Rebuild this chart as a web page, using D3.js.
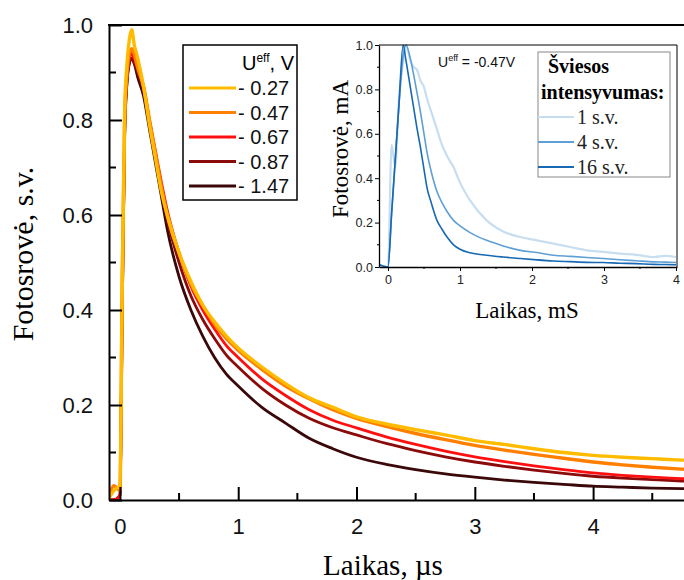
<!DOCTYPE html>
<meta charset="utf-8">
<style>
body { margin: 0; background: #fff; }
.tick text { font-family: "Liberation Sans", Arial, sans-serif; }
</style>
<script src="https://d3js.org/d3.v7.min.js"></script>
<div id="chart"></div>
<script>
// main chart data (time in µs, normalised photocurrent)
var tMain = [-0.1, -0.05, 0, 0.02, 0.04, 0.06, 0.08, 0.1, 0.12, 0.15, 0.2, 0.25, 0.3, 0.35, 0.4,
  0.5, 0.6, 0.7, 0.8, 0.9, 1.0, 1.2, 1.4, 1.6, 1.8, 2.0, 2.25, 2.5, 2.75, 3.0, 3.25, 3.5,
  3.75, 4.0, 4.25, 4.5, 4.75, 5.0];
var voltages = ["- 0.27", "- 0.47", "- 0.67", "- 0.87", "- 1.47"];
var colors = ["#ffbb00", "#ff7f00", "#ff1010", "#8b0a0a", "#3a0808"];
var v027 = [0, 0.02, 0.03, 0.45, 0.82, 0.92, 0.97, 0.99, 0.96, 0.93, 0.87, 0.79, 0.72, 0.65, 0.6,
  0.52, 0.46, 0.41, 0.375, 0.345, 0.32, 0.28, 0.245, 0.215, 0.195, 0.175, 0.16, 0.148, 0.137,
  0.125, 0.117, 0.108, 0.1, 0.094, 0.09, 0.087, 0.084, 0.082];
var v047 = [0, 0.03, 0.02, 0.48, 0.8, 0.9, 0.94, 0.95, 0.94, 0.91, 0.87, 0.8, 0.73, 0.66, 0.6,
  0.52, 0.455, 0.41, 0.37, 0.34, 0.315, 0.275, 0.24, 0.213, 0.19, 0.172, 0.155, 0.14, 0.127,
  0.115, 0.105, 0.096, 0.088, 0.08, 0.074, 0.069, 0.065, 0.062];
var v067 = [0, 0, 0.01, 0.42, 0.78, 0.89, 0.93, 0.94, 0.93, 0.91, 0.87, 0.8, 0.735, 0.67, 0.61,
  0.52, 0.45, 0.4, 0.36, 0.325, 0.3, 0.255, 0.22, 0.19, 0.168, 0.152, 0.133, 0.117, 0.103,
  0.091, 0.081, 0.072, 0.064, 0.057, 0.052, 0.048, 0.045, 0.042];
var v087 = [0, 0, 0.01, 0.4, 0.77, 0.88, 0.92, 0.93, 0.92, 0.9, 0.86, 0.79, 0.72, 0.65, 0.59,
  0.5, 0.43, 0.38, 0.34, 0.305, 0.28, 0.235, 0.2, 0.172, 0.152, 0.137, 0.119, 0.104, 0.091,
  0.08, 0.071, 0.063, 0.056, 0.05, 0.046, 0.043, 0.04, 0.038];
var v147 = [0, 0, 0.01, 0.4, 0.77, 0.88, 0.92, 0.93, 0.92, 0.89, 0.85, 0.78, 0.71, 0.64, 0.57,
  0.47, 0.4, 0.345, 0.3, 0.265, 0.24, 0.195, 0.162, 0.13, 0.108, 0.09, 0.075, 0.064, 0.055,
  0.048, 0.042, 0.037, 0.033, 0.029, 0.027, 0.025, 0.024, 0.023];
var mainSeries = [v027, v047, v067, v087, v147];

// inset data (time in mS, photocurrent in mA)
var tInset = [-0.12, 0, 0.05, 0.1, 0.15, 0.21, 0.25, 0.31, 0.36, 0.4, 0.45, 0.5, 0.54, 0.6, 0.68,
  0.75, 0.82, 0.91, 1.0, 1.14, 1.37, 1.6, 1.84, 2.07, 2.3, 2.53, 2.76, 2.99, 3.22, 3.45, 3.69,
  3.85, 4.0];
var intensities = ["1 s.v.", "4 s.v.", "16 s.v."];
var blues = ["#c6def0", "#5e9fd6", "#1868b4"];
var i1 = [0.01, 0.0, 0.55, 0.45, 0.75, 0.92, 1.0, 0.93, 0.9, 0.89, 0.84, 0.81, 0.76, 0.7, 0.62,
  0.55, 0.5, 0.45, 0.38, 0.3, 0.21, 0.16, 0.135, 0.12, 0.105, 0.09, 0.075, 0.068, 0.06, 0.055,
  0.045, 0.05, 0.045];
var i4 = [0.01, 0.0, 0.24, 0.48, 0.72, 0.95, 1.0, 0.94, 0.86, 0.79, 0.7, 0.6, 0.52, 0.43, 0.34,
  0.29, 0.25, 0.21, 0.185, 0.155, 0.12, 0.095, 0.075, 0.065, 0.053, 0.048, 0.043, 0.038, 0.033,
  0.028, 0.023, 0.022, 0.02];
var i16 = [0.01, 0.0, 0.24, 0.48, 0.72, 1.0, 0.93, 0.81, 0.71, 0.63, 0.54, 0.44, 0.36, 0.29, 0.21,
  0.17, 0.135, 0.1, 0.08, 0.064, 0.053, 0.045, 0.038, 0.032, 0.027, 0.024, 0.021, 0.02, 0.017,
  0.015, 0.012, 0.011, 0.01];
var insetSeries = [i1, i4, i16];

var W = 684, H = 580;
var serif = "'Liberation Serif', 'Times New Roman', serif";
var svg = d3.select("#chart").append("svg")
    .attr("width", W).attr("height", H)
    .style("font-family", "'Liberation Sans', Arial, sans-serif");

// ---------- main plot ----------
var L = 109, T = 25, R = 700, B = 500;
var x = d3.scaleLinear().domain([-0.0923, 4.9036]).range([L, R]);
var y = d3.scaleLinear().domain([0, 1]).range([B, T]);

svg.append("defs").append("clipPath").attr("id", "clipMain")
  .append("rect").attr("x", L).attr("y", T).attr("width", R - L).attr("height", B - T);

var line = d3.line()
    .x(function(d) { return x(d[0]); })
    .y(function(d) { return y(d[1]); })
    .curve(d3.curveMonotoneX);

var gLines = svg.append("g").attr("clip-path", "url(#clipMain)");
for (var s = mainSeries.length - 1; s >= 0; s--) {
  gLines.append("path")
    .datum(tMain.map(function(t, i) { return [t, mainSeries[s][i]]; }))
    .attr("fill", "none")
    .attr("stroke", colors[s])
    .attr("stroke-width", s < 2 ? 3.4 : 2.8)
    .attr("d", line);
}

// axes with inward ticks
function minorTicks(g, scale, vals, horiz, len) {
  vals.forEach(function(v) {
    if (horiz) g.append("line").attr("x1", scale(v)).attr("x2", scale(v)).attr("y1", B).attr("y2", B - len);
    else g.append("line").attr("y1", scale(v)).attr("y2", scale(v)).attr("x1", L).attr("x2", L + len);
  });
}
var xAxis = d3.axisBottom(x).tickValues([0, 1, 2, 3, 4]).tickFormat(d3.format("d"))
    .tickSizeInner(-13).tickSizeOuter(0).tickPadding(18);
var yAxis = d3.axisLeft(y).tickValues([0, 0.2, 0.4, 0.6, 0.8, 1.0]).tickFormat(d3.format(".1f"))
    .tickSizeInner(-13).tickSizeOuter(0).tickPadding(16);

var gx = svg.append("g").attr("transform", "translate(0," + B + ")").call(xAxis);
var gy = svg.append("g").attr("transform", "translate(" + L + ",0)").call(yAxis);
[gx, gy].forEach(function(g) {
  g.select(".domain").attr("stroke", "#000").attr("stroke-width", 2);
  g.selectAll(".tick line").attr("stroke", "#000").attr("stroke-width", 2);
  g.selectAll(".tick text").attr("fill", "#111").style("font-size", "22px");
});
var gm = svg.append("g").attr("stroke", "#000").attr("stroke-width", 2);
minorTicks(gm, x, [0.5, 1.5, 2.5, 3.5, 4.5], true, 7);
minorTicks(gm, y, [0.1, 0.3, 0.5, 0.7, 0.9], false, 7);
svg.append("line").attr("x1", L - 1).attr("x2", R).attr("y1", T).attr("y2", T)
  .attr("stroke", "#000").attr("stroke-width", 2);

svg.append("text").attr("x", 383).attr("y", 575).attr("text-anchor", "middle")
  .style("font-family", serif).style("font-size", "29px")
  .text("Laikas, µs");
svg.append("text").attr("transform", "translate(33,254) rotate(-90)").attr("text-anchor", "middle")
  .style("font-family", serif).style("font-size", "30px")
  .text("Fotosrovė, s.v.");

// legend
var lg = svg.append("g");
lg.append("rect").attr("x", 183).attr("y", 45).attr("width", 114).attr("height", 155)
  .attr("fill", "#fff").attr("stroke", "#000").attr("stroke-width", 1.5);
var hdr = lg.append("text").attr("x", 294).attr("y", 70).attr("text-anchor", "end")
  .style("font-size", "20px");
hdr.append("tspan").text("U");
hdr.append("tspan").attr("dy", -8).style("font-size", "12px").text("eff");
hdr.append("tspan").attr("dy", 8).text(", V");
voltages.forEach(function(v, i) {
  var yy = 88 + i * 24.5;
  lg.append("line").attr("x1", 189).attr("x2", 236).attr("y1", yy).attr("y2", yy)
    .attr("stroke", colors[i]).attr("stroke-width", 3);
  lg.append("text").attr("x", 238).attr("y", yy + 7).style("font-size", "20px").attr("fill", "#111").text(v);
});

// ---------- inset ----------
var iL = 379, iT = 45, iR = 677, iB = 267;
var xi = d3.scaleLinear().domain([-0.125, 4.014]).range([iL, iR]);
var yi = d3.scaleLinear().domain([0, 1]).range([iB, iT]);
var inset = svg.append("g");
inset.append("rect").attr("x", iL).attr("y", iT).attr("width", iR - iL).attr("height", iB - iT)
  .attr("fill", "#fff");
inset.append("defs").append("clipPath").attr("id", "clipInset")
  .append("rect").attr("x", iL).attr("y", iT - 2).attr("width", iR - iL).attr("height", iB - iT + 2);
var lineI = d3.line()
    .x(function(d) { return xi(d[0]); })
    .y(function(d) { return yi(d[1]); })
    .curve(d3.curveMonotoneX);
var gi = inset.append("g").attr("clip-path", "url(#clipInset)");
insetSeries.forEach(function(ser, k) {
  gi.append("path")
    .datum(tInset.map(function(t, i) { return [t, ser[i]]; }))
    .attr("fill", "none").attr("stroke", blues[k]).attr("stroke-width", k === 0 ? 2.2 : 1.6)
    .attr("d", lineI);
});
var xiAxis = d3.axisBottom(xi).tickValues([0, 1, 2, 3, 4]).tickFormat(d3.format("d"))
    .tickSize(4).tickSizeOuter(0).tickPadding(4);
var yiAxis = d3.axisLeft(yi).tickValues([0, 0.2, 0.4, 0.6, 0.8, 1.0]).tickFormat(d3.format(".1f"))
    .tickSize(4).tickSizeOuter(0).tickPadding(2);
var gxi = inset.append("g").attr("transform", "translate(0," + iB + ")").call(xiAxis);
var gyi = inset.append("g").attr("transform", "translate(" + iL + ",0)").call(yiAxis);
[gxi, gyi].forEach(function(g) {
  g.select(".domain").attr("stroke", "#000").attr("stroke-width", 1.3);
  g.selectAll(".tick line").attr("stroke", "#000");
  g.selectAll(".tick text").attr("fill", "#222").style("font-size", "12.5px");
});
var gmi = inset.append("g").attr("stroke", "#000");
[0.5, 1.5, 2.5, 3.5].forEach(function(v) {
  gmi.append("line").attr("x1", xi(v)).attr("x2", xi(v)).attr("y1", iB).attr("y2", iB + 2);
});
[0.1, 0.3, 0.5, 0.7, 0.9].forEach(function(v) {
  gmi.append("line").attr("y1", yi(v)).attr("y2", yi(v)).attr("x1", iL).attr("x2", iL - 2);
});
inset.append("line").attr("x1", iL).attr("x2", iR).attr("y1", iT).attr("y2", iT).attr("stroke", "#000");
inset.append("line").attr("x1", iR).attr("x2", iR).attr("y1", iT).attr("y2", iB).attr("stroke", "#000");

inset.append("text").attr("x", 527).attr("y", 318).attr("text-anchor", "middle")
  .style("font-family", serif).style("font-size", "23px")
  .text("Laikas, mS");
inset.append("text").attr("transform", "translate(348,149) rotate(-90)").attr("text-anchor", "middle")
  .style("font-family", serif).style("font-size", "23px")
  .text("Fotosrovė, mA");

var ue = inset.append("text").attr("x", 438).attr("y", 67).style("font-size", "14px").attr("fill", "#111");
ue.append("tspan").text("U");
ue.append("tspan").attr("dy", -6).style("font-size", "9px").text("eff");
ue.append("tspan").attr("dy", 6).text(" = -0.47V");

var il = inset.append("g");
il.append("rect").attr("x", 538).attr("y", 52).attr("width", 132).attr("height", 125)
  .attr("fill", "#fff").attr("stroke", "#888").attr("stroke-width", 1);
il.append("text").attr("x", 548).attr("y", 73)
  .style("font-family", serif).style("font-size", "20px")
  .style("font-weight", "bold").text("Šviesos");
il.append("text").attr("x", 541).attr("y", 99)
  .style("font-family", serif).style("font-size", "20px")
  .style("font-weight", "bold").text("intensyvumas:");
intensities.forEach(function(s, i) {
  var yy = 117 + i * 25;
  il.append("line").attr("x1", 538).attr("x2", 574).attr("y1", yy).attr("y2", yy)
    .attr("stroke", blues[i]).attr("stroke-width", 2);
  il.append("text").attr("x", 577).attr("y", yy + 7)
    .style("font-family", serif).style("font-size", "20px")
    .attr("fill", "#222").text(s);
});
</script>
